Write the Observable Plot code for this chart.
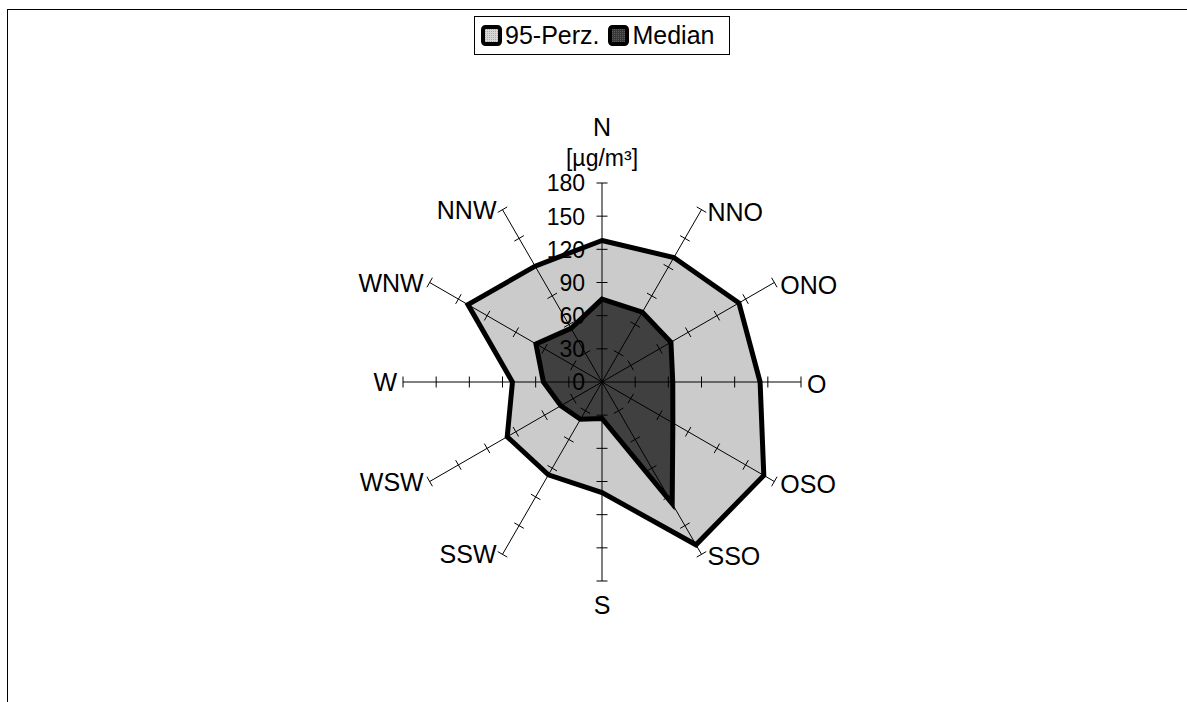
<!DOCTYPE html>
<html>
<head>
<meta charset="utf-8">
<script src="https://cdn.jsdelivr.net/npm/d3@7"></script>
<script src="https://cdn.jsdelivr.net/npm/@observablehq/plot@0.6"></script>
<style>
  html, body { margin: 0; padding: 0; background: white; }
  #wrap { position: relative; width: 1187px; height: 702px; overflow: hidden; font-family: "Liberation Sans", Arial, sans-serif; }
  #frame { position: absolute; left: 7px; top: 9px; width: 1300px; height: 800px; border: 1px solid black; box-sizing: border-box; pointer-events: none; }
  #legend { position: absolute; left: 474px; top: 16px; width: 256px; height: 39px; box-sizing: border-box; border: 1px solid black; background: white; display: flex; align-items: center; padding: 0 0 0 6px; font-size: 25px; }
  #legend .item { display: flex; align-items: center; }
  #legend .item + .item { margin-left: 9px; }
  #legend span { margin-left: 3px; }
  #legend svg { display: block; }
</style>
</head>
<body>
<div id="wrap">
  <div id="chart"></div>
  <div id="frame"></div>
  <div id="legend"></div>
</div>
<script>
// ---- data ----
const directions = ["N", "NNO", "ONO", "O", "OSO", "SSO", "S", "SSW", "WSW", "W", "WNW", "NNW"];
const perz95 = [128, 130, 143, 143, 169, 170, 100, 97, 99, 81, 140, 121];
const median = [75, 73, 72, 64, 74, 127, 33, 39, 43, 53, 69, 56];
const tickValues = [0, 30, 60, 90, 120, 150, 180];
const seriesNames = ["95-Perz.", "Median"];
const unitLabel = "[µg/m³]";

// ---- layout ----
const W = 1187, H = 702;
const cx = 601.5, cy = 381.5;   // centre in pixels
const k = 199 / 180;            // pixels per unit
const rMax = 180;
const angle = i => i * 2 * Math.PI / directions.length;
const px = (r, i) => r * Math.sin(angle(i));
const py = (r, i) => r * Math.cos(angle(i));

const pts = vals => vals.map((v, i) => ({dir: directions[i], i, v}));
const p95 = pts(perz95);
const pMed = pts(median);

const tickData = directions.flatMap((d, i) => tickValues.slice(1).map(t => ({i, t})));
const h = 5.5 / k;

const dirs = directions.map((d, i) => ({d, i, s: Math.sin(angle(i))}));

const chart = Plot.plot({
  width: W, height: H, margin: 0,
  x: {domain: [-cx / k, (W - cx) / k], axis: null},
  y: {domain: [-(H - cy) / k, cy / k], axis: null},
  style: {fontFamily: "'Liberation Sans', Arial, sans-serif", background: "transparent", color: "black"},
  marks: [
    Plot.line(p95, {x: d => px(d.v, d.i), y: d => py(d.v, d.i), curve: "linear-closed", fill: "url(#pat95)", stroke: "none"}),
    Plot.line(pMed, {x: d => px(d.v, d.i), y: d => py(d.v, d.i), curve: "linear-closed", fill: "url(#patMed)", stroke: "none"}),
    Plot.link(dirs, {x1: d => 0, y1: d => 0, x2: d => px(rMax, d.i), y2: d => py(rMax, d.i), stroke: "black", strokeWidth: 1}),
    Plot.link(tickData, {
      x1: d => px(d.t, d.i) - h * Math.cos(angle(d.i)), y1: d => py(d.t, d.i) + h * Math.sin(angle(d.i)),
      x2: d => px(d.t, d.i) + h * Math.cos(angle(d.i)), y2: d => py(d.t, d.i) - h * Math.sin(angle(d.i)),
      stroke: "black", strokeWidth: 1
    }),
    Plot.line(p95, {x: d => px(d.v, d.i), y: d => py(d.v, d.i), curve: "linear-closed", stroke: "black", strokeWidth: 5, strokeLinejoin: "miter", strokeMiterlimit: 4}),
    Plot.line(pMed, {x: d => px(d.v, d.i), y: d => py(d.v, d.i), curve: "linear-closed", stroke: "black", strokeWidth: 5, strokeLinejoin: "miter", strokeMiterlimit: 4}),
    Plot.text(tickValues, {x: d => 0, y: d => d, text: d => String(d), textAnchor: "end", dx: -17, dy: 1, fontSize: 23, fill: "black"}),
    Plot.text(dirs.filter(d => d.s > 0.01), {x: d => px(rMax, d.i), y: d => py(rMax, d.i), text: "d", textAnchor: "start", dx: 6, dy: 3, fontSize: 25, fill: "black"}),
    Plot.text(dirs.filter(d => d.s < -0.01), {x: d => px(rMax, d.i), y: d => py(rMax, d.i), text: "d", textAnchor: "end", dx: -6, dy: 1, fontSize: 25, fill: "black"}),
    Plot.text(dirs.filter(d => d.d === "S"), {x: d => px(rMax, d.i), y: d => py(rMax, d.i), text: "d", textAnchor: "middle", dy: 25, fontSize: 25, fill: "black"}),
    Plot.text(dirs.filter(d => d.d === "N"), {x: d => px(rMax, d.i), y: d => py(rMax, d.i), text: "d", textAnchor: "middle", dy: -55, fontSize: 25, fill: "black"}),
    Plot.text([unitLabel], {x: d => 0, y: d => rMax, text: d => d, textAnchor: "middle", dy: -24, fontSize: 23, fill: "black"})
  ]
});

// patterns
const defsHTML = `
  <pattern id="pat95" width="2" height="2" patternUnits="userSpaceOnUse">
    <rect width="2" height="2" fill="#d6d6d6"/>
    <rect width="1" height="1" fill="#a9a9a9"/>
  </pattern>
  <pattern id="patMed" width="2" height="2" patternUnits="userSpaceOnUse">
    <rect width="2" height="2" fill="#383838"/>
    <rect width="1" height="1" fill="#5a5a5a"/>
  </pattern>`;
const defs = document.createElementNS("http://www.w3.org/2000/svg", "defs");
defs.innerHTML = defsHTML;
chart.insertBefore(defs, chart.firstChild);
document.getElementById("chart").appendChild(chart);

// legend
const legend = d3.select("#legend");
const fills = ["url(#pat95)", "url(#patMed)"];
seriesNames.forEach((name, j) => {
  const item = legend.append("div").attr("class", "item");
  const s = item.append("svg").attr("width", 21).attr("height", 21);
  s.append("rect").attr("x", 2).attr("y", 2).attr("width", 17).attr("height", 17)
    .attr("rx", 2.5).attr("fill", fills[j]).attr("stroke", "black").attr("stroke-width", 4);
  item.append("span").text(name);
});
</script>
</body>
</html>
